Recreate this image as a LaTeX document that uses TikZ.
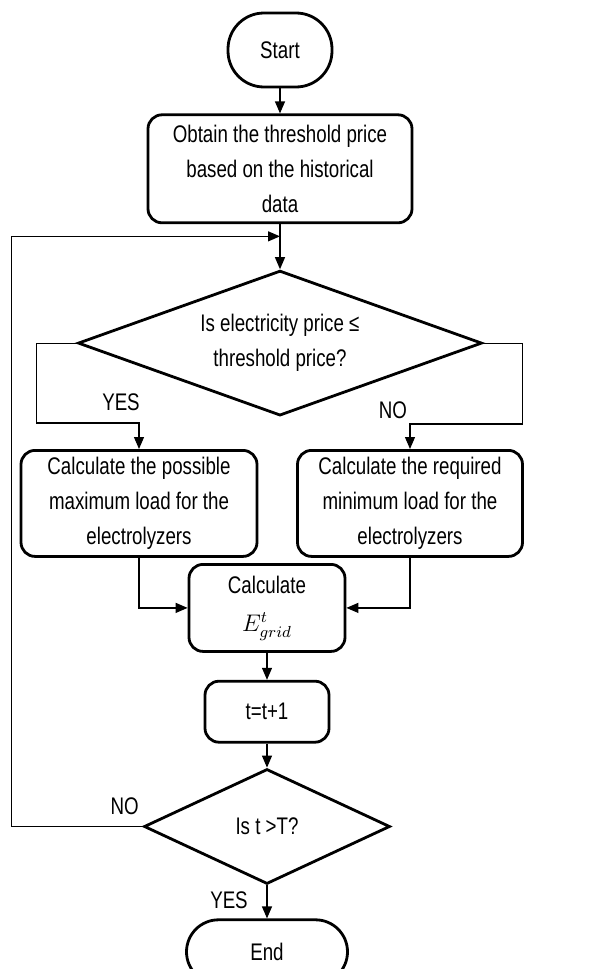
\documentclass[tikz,border=0pt]{standalone}
\usepackage{fontspec}
\setmainfont{Liberation Sans}[FakeStretch=0.78]
\usetikzlibrary{arrows.meta,positioning,calc,shapes.geometric}

\begin{document}
\begin{tikzpicture}[x=0.5pt,y=-0.5pt,>={Triangle[length=6pt,width=5pt]},
  every node/.style={font=\fontsize{12}{17.5}\selectfont,align=center},
  proc/.style={draw,line width=1.4pt,rounded corners=7pt,inner sep=2pt},
  term/.style={draw,line width=1.4pt,inner sep=2pt},
  dec/.style={draw,line width=1.4pt,diamond,inner sep=0pt},
  flow/.style={line width=0.6pt}]
\useasboundingbox (0,0) rectangle (593,969);
\node[term,rounded corners=18pt,minimum width=52pt,minimum height=37pt] (start) at (280,50) {Start};
\node[proc,minimum width=132pt,minimum height=54pt,below=12.5pt of start] (obtain) {Obtain the threshold price\\based on the historical\\data};
\node[dec,aspect=2.8,minimum width=202pt,minimum height=72.5pt,below=22.5pt of obtain] (dec1) {Is electricity price ≤\\threshold price?};
\node[proc,minimum width=118pt,minimum height=53pt,below=16pt of dec1,xshift=-70.5pt] (maxload) {Calculate the possible\\maximum load for the\\electrolyzers};
\node[proc,minimum width=112.5pt,minimum height=53pt,below=16pt of dec1,xshift=65pt] (minload) {Calculate the required\\minimum load for the\\electrolyzers};
\node[proc,minimum width=78pt,minimum height=43.5pt,below=73pt of dec1,xshift=-6.5pt] (calc) {Calculate\\[1.5pt]$E^{t}_{grid}$};
\node[proc,minimum width=62pt,minimum height=30.5pt,below=13.5pt of calc] (tinc) {t=t+1};
\node[dec,aspect=2.1,minimum width=123pt,minimum height=57.5pt,below=12pt of tinc] (dec2) {Is t >T?};
\node[term,rounded corners=16pt,minimum width=80.5pt,minimum height=32pt,below=16.5pt of dec2] (end) {End};
% main column
\draw[flow,->] (start) -- (obtain);
\draw[flow,->] (obtain) -- (dec1);
\coordinate (join) at ($(obtain.south)!0.27!(dec1.north)$);
% branches
\draw[flow,->] (dec1.west) -- ++(-20pt,0) |- ([yshift=13pt]maxload.north) -- (maxload.north);
\draw[flow,->] (dec1.east) -- ++(19.5pt,0) |- ([yshift=12.5pt]minload.north) -- (minload.north);
\draw[flow,->] (maxload) |- (calc);
\draw[flow,->] (minload) |- (calc);
\draw[flow,->] (calc) -- (tinc);
\draw[flow,->] (tinc) -- (dec2);
\draw[flow,->] (dec2) -- (end);
% loop back
\coordinate[left=65.5pt of dec2.west] (back);
\draw[flow,->] (dec2.west) -- (back) |- (join);
\node at ($(maxload.north)+(-9pt,23.5pt)$) {YES};
\node at ($(minload.north)+(-8.5pt,19.5pt)$) {NO};
\node at ($(dec2.west)+(-9pt,10pt)$) {NO};
\node at ($(dec2.south)+(-19pt,-7.5pt)$) {YES};
\end{tikzpicture}
\end{document}
